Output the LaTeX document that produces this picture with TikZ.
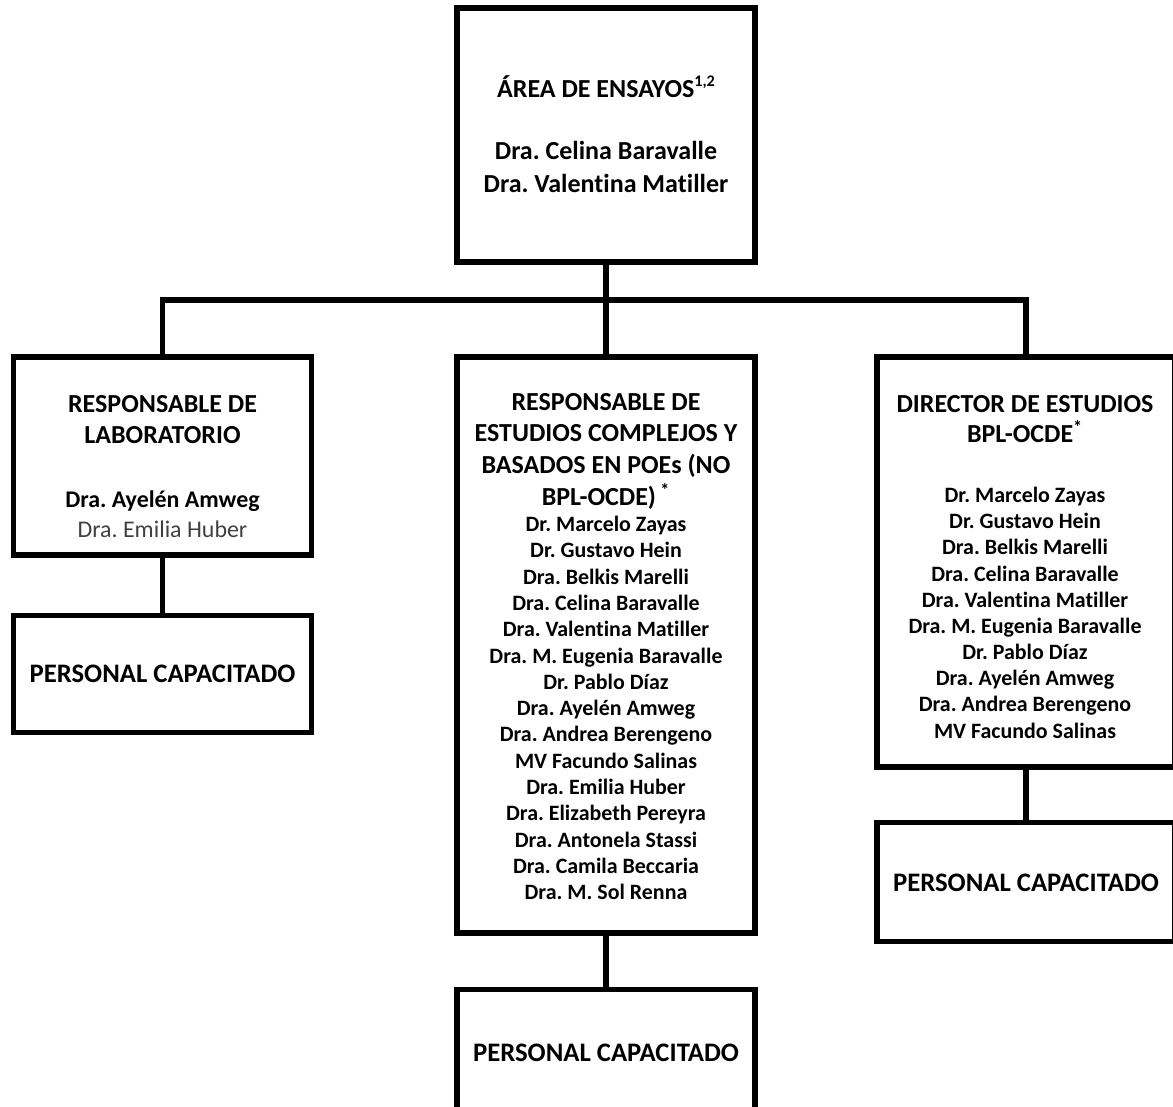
\documentclass[tikz,border=0pt]{standalone}
\usepackage{fontspec}
\setmainfont{Carlito}[Ligatures=NoCommon]
\frenchspacing
\newcommand{\supmark}[1]{\raisebox{0.4em}{\fontsize{11.5}{11.5}\selectfont #1}}

\tikzset{
    orgbox/.style={draw, line width=3.6pt, minimum width=7.45cm, inner sep=0pt,
        font=\bfseries\fontsize{19}{23}\selectfont},
    headtxt/.style={anchor=north, align=center, inner sep=0pt,
        font=\bfseries\fontsize{18.5}{22}\selectfont},
    listtxt/.style={anchor=north, align=center, inner sep=0pt,
        font=\bfseries\fontsize{15.6}{18.7}\selectfont},
    link/.style={line width=3.6pt},
}

\begin{document}
\begin{tikzpicture}
    \useasboundingbox (0, 0) rectangle (29.325, -27.65);

    % boxes
    \node[orgbox, minimum height=6.35cm] (area) at (15.15, -3.375) {};
    \node[orgbox, minimum height=4.95cm] (lab) at (4.0625, -11.4) {};
    \node[orgbox, minimum height=14.4cm] (poe) at (15.15, -16.125) {};
    \node[orgbox, minimum height=10.25cm] (dir) at (25.65, -14.05) {};
    \node[orgbox, minimum height=2.925cm] (labstaff) at (4.0625, -16.84) {PERSONAL CAPACITADO};
    \node[orgbox, minimum height=3.125cm] (poestaff) at (15.15, -26.31) {PERSONAL CAPACITADO};
    \node[orgbox, minimum height=2.975cm] (dirstaff) at (25.65, -22.06) {PERSONAL CAPACITADO};

    % texts
    \node[headtxt, font=\bfseries\fontsize{18.5}{23.5}\selectfont] (areatxt) at (15.15, -1.88)
        {ÁREA DE ENSAYOS\supmark{1,2}\\[21pt]
         Dra. Celina Baravalle\\ Dra. Valentina Matiller};
    \node[headtxt] (labhead) at (4.0625, -9.875) {RESPONSABLE DE\\ LABORATORIO};
    \node[listtxt, font=\bfseries\fontsize{17}{21.3}\selectfont] (labnames) at (4.0625, -12.25)
        {Dra. Ayelén Amweg\\ {\mdseries\color{black!75}Dra. Emilia Huber}};
    \node[headtxt, font=\bfseries\fontsize{18.5}{22.5}\selectfont] (poehead) at (15.15, -9.825)
        {RESPONSABLE DE\\ ESTUDIOS COMPLEJOS Y\\ BASADOS EN POEs (NO\\ BPL-OCDE)\,\textsuperscript{*}};
    \node[listtxt] (poenames) at (15.15, -12.9)
        {Dr. Marcelo Zayas\\ Dr. Gustavo Hein\\ Dra. Belkis Marelli\\ Dra. Celina Baravalle\\
         Dra. Valentina Matiller\\ Dra. M. Eugenia Baravalle\\ Dr. Pablo Díaz\\
         Dra. Ayelén Amweg\\ Dra. Andrea Berengeno\\ MV Facundo Salinas\\ Dra. Emilia Huber\\
         Dra. Elizabeth Pereyra\\ Dra. Antonela Stassi\\ Dra. Camila Beccaria\\ Dra. M. Sol Renna};
    \node[headtxt, font=\bfseries\fontsize{18.5}{21.3}\selectfont] (dirhead) at (25.625, -9.875)
        {DIRECTOR DE ESTUDIOS\\ BPL-OCDE\textsuperscript{*}};
    \node[listtxt, font=\bfseries\fontsize{15.6}{18.6}\selectfont] (dirnames) at (25.625, -12.175)
        {Dr. Marcelo Zayas\\ Dr. Gustavo Hein\\ Dra. Belkis Marelli\\ Dra. Celina Baravalle\\
         Dra. Valentina Matiller\\ Dra. M. Eugenia Baravalle\\ Dr. Pablo Díaz\\
         Dra. Ayelén Amweg\\ Dra. Andrea Berengeno\\ MV Facundo Salinas};

    % connectors
    \coordinate (bar) at (0, -7.5);
    \draw[link] (area.south) -- (area.south |- bar);
    \draw[link] (lab.north) |- (dir.north |- bar) -- (dir.north);
    \draw[link] (poe.north) -- (poe.north |- bar);
    \draw[link] (lab.south) -- (labstaff.north);
    \draw[link] (poe.south) -- (poestaff.north);
    \draw[link] (dir.south) -- (dirstaff.north);
\end{tikzpicture}
\end{document}
